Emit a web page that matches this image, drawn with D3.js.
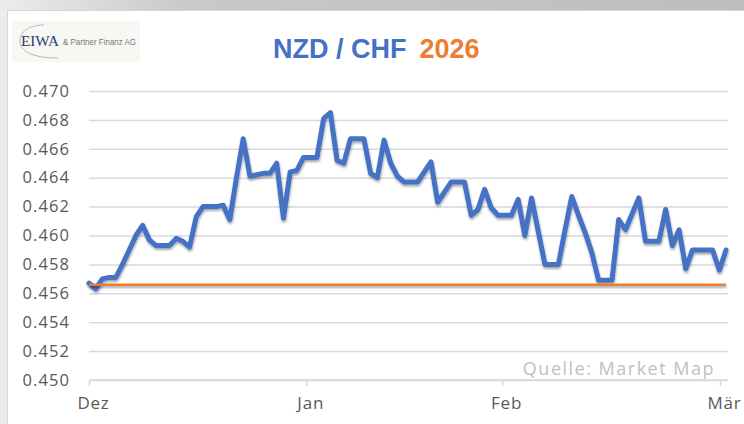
<!DOCTYPE html>
<html>
<head>
<meta charset="utf-8">
<script src="https://cdn.jsdelivr.net/npm/d3@7"></script>
<style>
  html, body { margin: 0; padding: 0; background: #ececec; }
  svg { display: block; }
</style>
</head>
<body>
<div id="chart"></div>
<script>
// chart constants
const w = 744;
const h = 424;
const margin = {left: 89, right: 18, top: 91, bottom: 44};

// data: NZD/CHF daily quotes Dez 2025 - Mär 2026 (point index -> value)
const nzdchf = [
  0.4567, 0.4563, 0.4570, 0.4571, 0.4571, 0.4580, 0.4590, 0.4600, 0.4607, 0.4597,
  0.4593, 0.4593, 0.4593, 0.4598, 0.4596, 0.4592, 0.4613, 0.4620, 0.4620, 0.4620,
  0.4621, 0.4611, 0.4640, 0.4667, 0.4641, 0.4642, 0.4643, 0.4643, 0.4650, 0.4612,
  0.4644, 0.4645, 0.4654, 0.4654, 0.4654, 0.4681, 0.4685, 0.4652, 0.4650, 0.4667,
  0.4667, 0.4667, 0.4643, 0.4640, 0.4666, 0.4650, 0.4641, 0.4637, 0.4637, 0.4637,
  0.4644, 0.4651, 0.4623, 0.4630, 0.4637, 0.4637, 0.4637, 0.4614, 0.4618, 0.4632,
  0.4619, 0.4614, 0.4614, 0.4614, 0.4625, 0.4600, 0.4626, 0.4603, 0.4580, 0.4580,
  0.4580, 0.4604, 0.4627, 0.4614, 0.4602, 0.4588, 0.4569, 0.4569, 0.4569, 0.4611,
  0.4604, 0.4615, 0.4626, 0.4596, 0.4596, 0.4596, 0.4618, 0.4593, 0.4604, 0.4577,
  0.4590, 0.4590, 0.4590, 0.4590, 0.4576, 0.4590
];
const refLevel = [0.4566, 0.4566];   // start level (orange line)

const monthLabels = ["Dez", "Jan", "Feb", "Mär"];
const monthIndex = [0, 32.4, 61.6, 94.1];
const yTicks = [0.450, 0.452, 0.454, 0.456, 0.458, 0.460, 0.462, 0.464, 0.466, 0.468, 0.470];

const svg = d3.select("#chart")
  .append("svg")
  .attr("width", w)
  .attr("height", h)

// background frame
const defs = svg.append("defs")
const topGrad = defs.append("linearGradient").attr("id", "topband")
topGrad.append("stop").attr("offset", "0%").attr("stop-color", "#ececec")
topGrad.append("stop").attr("offset", "25%").attr("stop-color", "#c9c9c9")
topGrad.append("stop").attr("offset", "100%").attr("stop-color", "#bdbdbd")

svg.append("rect")
  .attr("width", w).attr("height", 10)
  .attr("fill", "url(#topband)")

svg.append("rect")
  .attr("x", 7.5).attr("y", 10.5)
  .attr("width", w).attr("height", h)
  .attr("fill", "#fff")
  .attr("stroke", "#d6d6d6")

// shadow filter in user space so the flat line keeps it too
const shadow = defs.append("filter").attr("id", "shadow")
  .attr("filterUnits", "userSpaceOnUse")
  .attr("x", 0).attr("y", 0).attr("width", w).attr("height", h)
shadow.append("feDropShadow")
  .attr("dx", 0.5).attr("dy", 2)
  .attr("stdDeviation", 1.3)
  .attr("flood-color", "#000")
  .attr("flood-opacity", 0.35)

// logo
const logo = svg.append("g")
logo.append("rect")
  .attr("x", 12).attr("y", 21).attr("width", 128).attr("height", 41)
  .attr("fill", "#f7f7f4")
logo.append("path")
  .attr("d", "M44,25 C28,25 20,32 20,41 C20,51 32,58 58,58")
  .attr("fill", "none")
  .attr("stroke", "#b0b0b0")
  .attr("stroke-width", 0.9)
logo.append("text")
  .attr("x", 21).attr("y", 46)
  .attr("font-family", "Liberation Serif, serif")
  .attr("font-size", 15)
  .attr("fill", "#2b3d6e")
  .attr("textLength", 38)
  .attr("lengthAdjust", "spacingAndGlyphs")
  .text("EIWA")
logo.append("text")
  .attr("x", 63).attr("y", 45)
  .attr("font-family", "Liberation Sans, sans-serif")
  .attr("font-size", 9)
  .attr("fill", "#777")
  .attr("textLength", 73)
  .attr("lengthAdjust", "spacingAndGlyphs")
  .text("& Partner Finanz AG")

// title
const title = svg.append("text")
  .attr("x", 273).attr("y", 58)
  .attr("font-family", "Liberation Sans, sans-serif")
  .attr("font-weight", "bold")
  .attr("font-size", 27)
title.append("tspan").attr("fill", "#4472C4").text("NZD / CHF")
title.append("tspan").attr("fill", "#ED7D31").attr("dx", 13).text("2026")

// scales
const xScale = d3.scaleLinear()
xScale.domain([0, nzdchf.length - 1])
xScale.range([margin.left, w - margin.right])

const yScale = d3.scaleLinear()
yScale.domain([d3.min(yTicks), d3.max(yTicks)])
yScale.range([h - margin.bottom, margin.top])

// gridlines + y labels
const yAxis = d3.axisLeft(yScale)
  .tickValues(yTicks)
  .tickSize(-(w - margin.left - margin.right + 2))
  .tickPadding(19)
  .tickFormat(d3.format(".3f"))

const gy = svg.append("g")
  .attr("transform", "translate(" + margin.left + ",0)")
  .call(yAxis)
gy.select(".domain").remove()
gy.selectAll("line").attr("stroke", "#d9d9d9").attr("stroke-width", 1.5)
gy.selectAll("text")
  .attr("fill", "#595959")
  .attr("font-family", "Open Sans, sans-serif")
  .attr("font-size", 16.5)
  .attr("letter-spacing", 1.1)

// x axis
const xAxis = d3.axisBottom(xScale)
  .tickValues(monthIndex)
  .tickSize(6)
  .tickPadding(11)
  .tickFormat((d, i) => monthLabels[i])

const gx = svg.append("g")
  .attr("transform", "translate(0," + (h - margin.bottom) + ")")
  .call(xAxis)
gx.select(".domain").attr("stroke", "#d9d9d9").attr("stroke-width", 1.5)
  .attr("d", "M" + margin.left + ",0H" + (w - margin.right + 2))
gx.selectAll("line").attr("stroke", "#d9d9d9").attr("stroke-width", 1.5)
gx.selectAll("text")
  .attr("fill", "#595959")
  .attr("font-family", "Open Sans, sans-serif")
  .attr("font-size", 17)
  .attr("letter-spacing", 0.8)
  .attr("dx", 4)

// source note
svg.append("text")
  .attr("x", 715).attr("y", 375)
  .attr("text-anchor", "end")
  .attr("font-family", "Open Sans, sans-serif")
  .attr("font-size", 18)
  .attr("letter-spacing", 1.5)
  .attr("fill", "#bfbfbf")
  .text("Quelle: Market Map")

// price line
const line = d3.line()
  .x((d, i) => xScale(i))
  .y((d) => yScale(d))

svg.append("path")
  .attr("d", line(nzdchf))
  .attr("fill", "none")
  .attr("stroke", "#4472C4")
  .attr("stroke-width", 5)
  .attr("stroke-linejoin", "round")
  .attr("stroke-linecap", "round")
  .attr("filter", "url(#shadow)")

// reference line
const refLine = d3.line()
  .x((d, i) => xScale(i * (nzdchf.length - 1)))
  .y((d) => yScale(d))

svg.append("path")
  .attr("d", refLine(refLevel))
  .attr("fill", "none")
  .attr("stroke", "#ED7D31")
  .attr("stroke-width", 2.5)
  .attr("filter", "url(#shadow)")
</script>
</body>
</html>
